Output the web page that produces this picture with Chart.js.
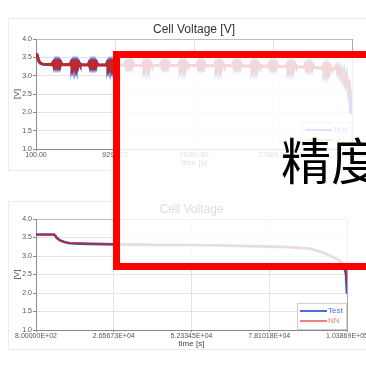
<!DOCTYPE html>
<html>
<head>
<meta charset="utf-8">
<script src="https://cdn.jsdelivr.net/npm/chart.js@4.4.1/dist/chart.umd.min.js"></script>
<style>
html, body { margin: 0; padding: 0; background: #fff; width: 366px; height: 367px; overflow: hidden; position: relative; font-family: 'Liberation Sans', Arial, sans-serif; }
.panel { position: absolute; left: 8px; width: 380px; border: 1px solid #ececec; box-sizing: border-box; background: #fff; }
canvas { position: absolute; left: 8px; }
#box { position: absolute; left: 113px; top: 51px; width: 300px; height: 219px; box-sizing: border-box; border: 7px solid #ff0000; background: rgba(255,255,255,0.82); z-index: 5; }
#label { position: absolute; left: 281px; top: 133px; font-size: 50px; line-height: 1; font-family: 'Noto Sans CJK SC', sans-serif; color: #000; z-index: 6; white-space: nowrap; }
</style>
</head>
<body>
<div class="panel" style="top:18px;height:153px"></div>
<div class="panel" style="top:201px;height:149px"></div>
<canvas id="topChart" width="358" height="153" style="top:18px"></canvas>
<canvas id="botChart" width="358" height="149" style="top:201px"></canvas>
<div id="box"></div>
<div id="label">精度</div>
<script>
// top chart: pulsed discharge, time [s]
const topTime = [
    100, 250, 400, 600, 900, 1900,
    1960, 2075, 2190, 2310, 2425, 2540, 2655, 2770, 2890, 3005, 3120,
    4060, 4175, 4290, 4410, 4525, 4640, 4755, 4870, 4990, 5105, 5220,
    6150, 6265, 6380, 6500, 6615, 6730, 6845, 6960, 7080, 7195, 7310,
    8250, 8365, 8480, 8600, 8715, 8830, 8945, 9060, 9180, 9295, 9410,
    10340, 10455, 10570, 10690, 10805, 10920, 11035, 11150, 11270, 11385, 11500,
    12440, 12555, 12670, 12790, 12905, 13020, 13135, 13250, 13370, 13485, 13600,
    14540, 14655, 14770, 14890, 15005, 15120, 15235, 15350, 15470, 15585, 15700,
    16630, 16745, 16860, 16980, 17095, 17210, 17325, 17440, 17560, 17675, 17790,
    18730, 18845, 18960, 19080, 19195, 19310, 19425, 19540, 19660, 19775, 19890,
    20820, 20935, 21050, 21170, 21285, 21400, 21515, 21630, 21750, 21865, 21980,
    22920, 23035, 23150, 23270, 23385, 23500, 23615, 23730, 23850, 23965, 24080,
    25010, 25125, 25240, 25360, 25475, 25590, 25705, 25820, 25940, 26055, 26170,
    27110, 27225, 27340, 27460, 27575, 27690, 27805, 27920, 28040, 28155, 28270,
    29200, 29315, 29430, 29550, 29665, 29780, 29895, 30010, 30130, 30245, 30360,
    31300, 31415, 31530, 31650, 31765, 31880, 31995, 32110, 32230, 32345, 32460,
    33390, 33505, 33620, 33740, 33855, 33970, 34085, 34200, 34320, 34435, 34550,
    34900, 35050, 35200, 35350, 35500, 35650, 35800, 35950, 36100, 36250, 36400, 36550, 36700, 36800, 36879
];
const topTest = [
    3.60, 3.55, 3.40, 3.34, 3.31, 3.30,
    3.30, 3.36, 3.25, 3.37, 3.25, 3.37, 3.25, 3.37, 3.25, 3.36, 3.30,
    3.30, 3.36, 3.25, 3.37, 3.25, 3.37, 3.25, 3.37, 3.25, 3.36, 3.30,
    3.29, 3.35, 3.24, 3.36, 3.24, 3.36, 3.24, 3.36, 3.24, 3.35, 3.29,
    3.29, 3.35, 3.24, 3.36, 3.24, 3.36, 3.24, 3.36, 3.24, 3.35, 3.29,
    3.29, 3.35, 3.24, 3.36, 3.24, 3.36, 3.24, 3.36, 3.24, 3.35, 3.29,
    3.28, 3.34, 3.23, 3.35, 3.23, 3.35, 3.23, 3.35, 3.23, 3.34, 3.28,
    3.28, 3.34, 3.23, 3.35, 3.23, 3.35, 3.23, 3.35, 3.23, 3.34, 3.28,
    3.28, 3.34, 3.23, 3.35, 3.23, 3.35, 3.23, 3.35, 3.23, 3.34, 3.28,
    3.27, 3.33, 3.22, 3.34, 3.22, 3.34, 3.22, 3.34, 3.22, 3.33, 3.27,
    3.27, 3.33, 3.22, 3.34, 3.22, 3.34, 3.22, 3.34, 3.22, 3.33, 3.27,
    3.27, 3.33, 3.22, 3.34, 3.22, 3.34, 3.22, 3.34, 3.22, 3.33, 3.27,
    3.26, 3.32, 3.21, 3.33, 3.21, 3.33, 3.21, 3.33, 3.21, 3.32, 3.26,
    3.26, 3.32, 3.21, 3.33, 3.21, 3.33, 3.21, 3.33, 3.21, 3.32, 3.26,
    3.25, 3.31, 3.20, 3.32, 3.20, 3.32, 3.20, 3.32, 3.20, 3.31, 3.25,
    3.23, 3.29, 3.18, 3.30, 3.18, 3.30, 3.18, 3.30, 3.18, 3.29, 3.23,
    3.20, 3.26, 3.14, 3.27, 3.13, 3.27, 3.13, 3.26, 3.13, 3.25, 3.20,
    3.19, 3.27, 3.08, 3.22, 3.00, 3.15, 2.90, 3.08, 2.80, 2.98, 2.62, 2.85, 1.95, 2.40, 2.60
];
const topNN = [
    3.60, 3.57, 3.43, 3.35, 3.32, 3.30,
    3.30, 3.36, 3.26, 3.36, 3.26, 3.36, 3.26, 3.36, 3.26, 3.35, 3.30,
    3.30, 3.36, 3.26, 3.36, 3.26, 3.36, 3.26, 3.36, 3.26, 3.35, 3.30,
    3.29, 3.35, 3.25, 3.35, 3.25, 3.35, 3.25, 3.35, 3.25, 3.34, 3.29,
    3.29, 3.35, 3.25, 3.35, 3.25, 3.35, 3.25, 3.35, 3.25, 3.34, 3.29,
    3.29, 3.35, 3.25, 3.35, 3.25, 3.35, 3.25, 3.35, 3.25, 3.34, 3.29,
    3.28, 3.34, 3.24, 3.34, 3.24, 3.34, 3.24, 3.34, 3.24, 3.33, 3.28,
    3.28, 3.34, 3.24, 3.34, 3.24, 3.34, 3.24, 3.34, 3.24, 3.33, 3.28,
    3.28, 3.34, 3.24, 3.34, 3.24, 3.34, 3.24, 3.34, 3.24, 3.33, 3.28,
    3.27, 3.33, 3.23, 3.33, 3.23, 3.33, 3.23, 3.33, 3.23, 3.32, 3.27,
    3.27, 3.33, 3.23, 3.33, 3.23, 3.33, 3.23, 3.33, 3.23, 3.32, 3.27,
    3.27, 3.33, 3.23, 3.33, 3.23, 3.33, 3.23, 3.33, 3.23, 3.32, 3.27,
    3.26, 3.32, 3.22, 3.32, 3.22, 3.32, 3.22, 3.32, 3.22, 3.31, 3.26,
    3.26, 3.32, 3.22, 3.32, 3.22, 3.32, 3.22, 3.32, 3.22, 3.31, 3.26,
    3.25, 3.31, 3.21, 3.31, 3.21, 3.31, 3.21, 3.31, 3.21, 3.30, 3.25,
    3.23, 3.29, 3.19, 3.29, 3.19, 3.29, 3.19, 3.29, 3.19, 3.28, 3.23,
    3.20, 3.26, 3.15, 3.26, 3.14, 3.26, 3.14, 3.25, 3.14, 3.24, 3.20,
    3.20, 3.25, 3.10, 3.20, 3.03, 3.13, 2.94, 3.05, 2.85, 2.95, 2.70, 2.80, 2.50, 2.52, 2.56
];
const topTicks = [100, 9294.75, 18489.5, 27684.25, 36879];
const topTickLabels = ['100.00', '9294.75', '18489.50', '27684.25', '36879.00'];

// bottom chart: continuous discharge
const botTime = [800, 6765, 7200, 7650, 8750, 10400, 12070, 15000, 27000, 40000, 49500,
    61800, 75000, 85000, 91600, 94900, 98200, 101500, 102870, 103530, 103869];
const botTest = [3.58, 3.58, 3.55, 3.49, 3.42, 3.37, 3.345, 3.335, 3.315, 3.30, 3.30,
    3.285, 3.26, 3.24, 3.195, 3.12, 3.01, 2.87, 2.71, 2.52, 1.98];
const botNN = [3.575, 3.575, 3.55, 3.50, 3.43, 3.375, 3.35, 3.34, 3.32, 3.305, 3.30,
    3.29, 3.265, 3.245, 3.20, 3.13, 3.02, 2.88, 2.74, 2.60, 2.30];
const botTicks = [800, 26567.25, 52334.5, 78101.75, 103869];
const botTickLabels = ['8.00000E+02', '2.65673E+04', '5.23345E+04', '7.81018E+04', '1.03869E+05'];

const seriesNames = ['Test', 'NN'];
const lineColors = ['#3a52c4', '#c0282a'];
const legendColors = ['#4a6ee0', '#e8867c'];
const FONT = "'Liberation Sans', Arial, sans-serif";

const toPoints = (xs, ys) => xs.map((x, i) => ({ x: x, y: ys[i] }));

// title centred over the plot area, not the whole canvas
const areaTitle = {
    id: 'areaTitle',
    afterDraw(chart, args, opts) {
        const { ctx, chartArea: a } = chart;
        ctx.save();
        ctx.font = '12px ' + FONT;
        ctx.fillStyle = '#333';
        ctx.textAlign = 'center';
        ctx.textBaseline = 'middle';
        ctx.fillText(opts.text, (a.left + a.right) / 2, opts.y);
        ctx.restore();
    }
};

// small boxed legend in the lower right corner of the plot
const cornerLegend = {
    id: 'cornerLegend',
    afterDatasetsDraw(chart) {
        const { ctx, chartArea: a } = chart;
        const w = 49, h = 26;
        const x = a.right - w - 1, y = a.bottom - h - 1;
        ctx.save();
        ctx.fillStyle = '#fff';
        ctx.fillRect(x, y, w, h);
        ctx.strokeStyle = '#cfcfcf';
        ctx.lineWidth = 1;
        ctx.strokeRect(x + 0.5, y + 0.5, w, h);
        ctx.font = '8px ' + FONT;
        ctx.textBaseline = 'middle';
        seriesNames.forEach((name, i) => {
            const ly = y + 8 + i * 10;
            ctx.strokeStyle = legendColors[i];
            ctx.lineWidth = 2;
            ctx.beginPath();
            ctx.moveTo(x + 3, ly);
            ctx.lineTo(x + 30, ly);
            ctx.stroke();
            ctx.fillStyle = legendColors[i];
            ctx.fillText(name, x + 31, ly);
        });
        ctx.restore();
    }
};

function makeChart(id, xs, test, nn, ticks, tickLabels, title, titleY, padTop, padRight, xHeight, xTitlePad, widths) {
    const last = ticks.length - 1;
    return new Chart(document.getElementById(id), {
        type: 'line',
        data: {
            datasets: [
                { label: seriesNames[0], data: toPoints(xs, test), borderColor: lineColors[0], borderWidth: widths[0], order: 1 },
                { label: seriesNames[1], data: toPoints(xs, nn), borderColor: lineColors[1], borderWidth: widths[1], order: 0 }
            ]
        },
        options: {
            responsive: false,
            animation: false,
            layout: { padding: { top: padTop, right: padRight, left: 0, bottom: 0 } },
            elements: { point: { radius: 0 }, line: { tension: 0 } },
            scales: {
                x: {
                    type: 'linear', min: ticks[0], max: ticks[last],
                    afterBuildTicks: s => { s.ticks = ticks.map(v => ({ value: v })); },
                    afterFit: s => { s.height = xHeight; s.paddingLeft = 0; s.paddingRight = 0; },
                    ticks: { callback: (v, i) => tickLabels[i], autoSkip: false, maxRotation: 0, padding: 0, color: '#555', font: { size: 7, family: FONT } },
                    grid: { color: c => c.index === last ? '#a8a8a8' : '#e3e3e3', tickLength: 2, tickColor: '#888' },
                    border: { color: '#888' },
                    title: { display: true, text: 'time [s]', color: '#444', font: { size: 8, family: FONT }, padding: { top: 0, bottom: xTitlePad } }
                },
                y: {
                    min: 1, max: 4,
                    afterFit: s => { s.width = 28; s.paddingTop = 0; s.paddingBottom = 0; },
                    ticks: { stepSize: 0.5, callback: v => v.toFixed(1), padding: 1, color: '#555', font: { size: 7, family: FONT } },
                    grid: { color: c => c.index === 6 ? '#bdbdbd' : '#e3e3e3', tickLength: 3, tickColor: '#888' },
                    border: { color: '#8a8aa0' },
                    title: { display: true, text: '[V]', color: '#444', font: { size: 8, family: FONT } }
                }
            },
            plugins: {
                legend: { display: false },
                tooltip: { enabled: false },
                areaTitle: { text: title, y: titleY }
            }
        },
        plugins: [areaTitle, cornerLegend]
    });
}

makeChart('topChart', topTime, topTest, topNN, topTicks, topTickLabels, 'Cell Voltage [V]', 12, 21, 14, 22, 3, [3, 2.6]);
makeChart('botChart', botTime, botTest, botNN, botTicks, botTickLabels, 'Cell Voltage', 9, 18, 19, 20, 1, [2.6, 1.5]);
</script>
</body>
</html>
